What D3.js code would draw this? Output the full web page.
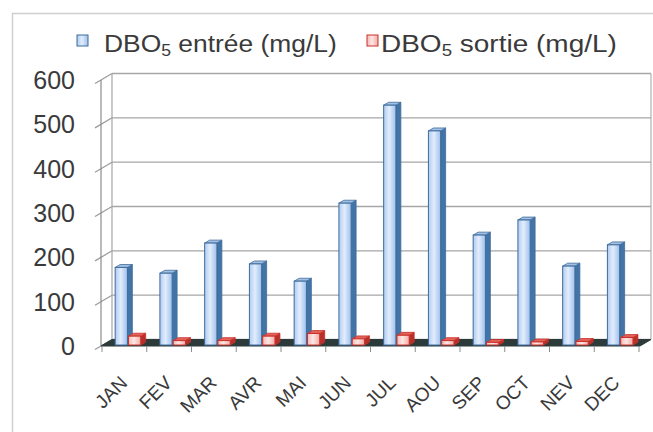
<!DOCTYPE html>
<html>
<head>
<meta charset="utf-8">
<script src="https://cdn.jsdelivr.net/npm/d3@7/dist/d3.min.js"></script>
<style>
  html, body { margin: 0; padding: 0; background: #fff; }
  svg { display: block; font-family: "Liberation Sans", Arial, sans-serif; }
</style>
</head>
<body>
<svg id="chart" width="653" height="432"></svg>
<script>
// Monthly BOD5 at the inlet and outlet of the plant (mg/L)
const months = ["JAN", "FEV", "MAR", "AVR", "MAI", "JUN", "JUL", "AOU", "SEP", "OCT", "NEV", "DEC"];
const dboEntree = [175, 162, 230, 183, 144, 320, 541, 483, 248, 282, 178, 226];
const dboSortie = [20, 10, 10, 20, 26, 14, 22, 10, 6, 7, 8, 17];
const yTicks = [0, 100, 200, 300, 400, 500, 600];
const seriesKeys = ["entree", "sortie"];
const seriesLabels = ["entrée (mg/L)", "sortie (mg/L)"];

const svg = d3.select("#chart");
const defs = svg.append("defs");

// pseudo-3D geometry: full depth of the plot box and the slab the columns occupy
const depth = { dx: 11, dy: -6.5 };
const barFront = 0.15, barBack = 0.6;

const x = d3.scaleBand().domain(months).range([102, 639]).padding(0);
const inner = d3.scaleBand().domain(seriesKeys).range([0, x.bandwidth()])
  .paddingInner(0.08).paddingOuter(0.72).align(0.6);
const y = d3.scaleLinear().domain([0, 600]).range([346, 80]);

const x0 = 101, x1 = 640;

// outer frame
svg.append("rect").attr("x", 12.5).attr("y", 13.5).attr("width", 700).attr("height", 500)
  .attr("fill", "#fff").attr("stroke", "#cfcfcf").attr("stroke-width", 1.5);

// gradients for the column faces
function hGrad(id, stops) {
  const g = defs.append("linearGradient").attr("id", id).attr("x1", 0).attr("x2", 1).attr("y1", 0).attr("y2", 0);
  stops.forEach(([o, c]) => g.append("stop").attr("offset", o).attr("stop-color", c));
}
hGrad("blueFront", [[0, "#b0cbf2"], [0.45, "#e2edfc"], [1, "#9fc0ec"]]);
hGrad("redFront", [[0, "#f5b9b5"], [0.45, "#fde6e4"], [1, "#f3aaa5"]]);

const palette = {
  entree: { front: "url(#blueFront)", side: "#4374a6", top: "#a3c0e3", stroke: "#3d6b9c" },
  sortie: { front: "url(#redFront)", side: "#b8302a", top: "#e3625a", stroke: "#c9312a" }
};

const wall = svg.append("g");
// gridlines on the back wall and side wall, with ticks on the front axis
wall.selectAll("line.grid").data(yTicks).join("line")
  .attr("x1", x0 + depth.dx).attr("x2", x1 + depth.dx)
  .attr("y1", d => y(d) + depth.dy).attr("y2", d => y(d) + depth.dy)
  .attr("stroke", "#a6a6a6").attr("stroke-width", 1.3);
wall.selectAll("line.side").data(yTicks).join("line")
  .attr("x1", x0 - 6).attr("y1", d => y(d) + 6 * 6.5 / 11)
  .attr("x2", x0 + depth.dx).attr("y2", d => y(d) + depth.dy)
  .attr("stroke", "#9a9a9a").attr("stroke-width", 1.2);
// wall edges
wall.append("line").attr("x1", x0 + depth.dx).attr("x2", x0 + depth.dx)
  .attr("y1", y(600) + depth.dy).attr("y2", y(0) + depth.dy).attr("stroke", "#a6a6a6").attr("stroke-width", 1.2);
wall.append("line").attr("x1", x1 + depth.dx).attr("x2", x1 + depth.dx)
  .attr("y1", y(600) + depth.dy).attr("y2", y(0) + depth.dy).attr("stroke", "#b0b0b0").attr("stroke-width", 1.2);
wall.append("line").attr("x1", x0).attr("x2", x0)
  .attr("y1", y(600)).attr("y2", y(0)).attr("stroke", "#8c8c8c").attr("stroke-width", 1.2);

// floor
svg.append("path")
  .attr("d", `M${x0},${y(0)}L${x1},${y(0)}L${x1 + depth.dx},${y(0) + depth.dy}L${x0 + depth.dx},${y(0) + depth.dy}Z`)
  .attr("fill", "#2c3a3a").attr("stroke", "#2c3a3a").attr("stroke-width", 1);

// category ticks below the floor
svg.selectAll("line.xtick").data(months.concat(["end"])).join("line")
  .attr("x1", (d, i) => 102 + i * x.step()).attr("x2", (d, i) => 102 + i * x.step())
  .attr("y1", y(0)).attr("y2", y(0) + 6)
  .attr("stroke", "#8c8c8c").attr("stroke-width", 1);

// columns
const rows = months.map((m, i) => ({ m, entree: dboEntree[i], sortie: dboSortie[i] }));
const fx = barFront * depth.dx, fy = barFront * depth.dy;
const bdx = (barBack - barFront) * depth.dx, bdy = (barBack - barFront) * depth.dy;

const cols = svg.append("g");
rows.forEach(r => {
  seriesKeys.forEach(k => {
    const c = palette[k];
    const left = x(r.m) + inner(k) + fx;
    const w = inner.bandwidth();
    const top = y(r[k]) + fy;
    const base = y(0) + fy;
    const g = cols.append("g");
    // side face
    g.append("path")
      .attr("d", `M${left + w},${top}L${left + w + bdx},${top + bdy}L${left + w + bdx},${base + bdy}L${left + w},${base}Z`)
      .attr("fill", c.side).attr("stroke", c.stroke).attr("stroke-width", 0.8);
    // top face
    g.append("path")
      .attr("d", `M${left},${top}L${left + bdx},${top + bdy}L${left + w + bdx},${top + bdy}L${left + w},${top}Z`)
      .attr("fill", c.top).attr("stroke", c.stroke).attr("stroke-width", 0.8);
    // front face
    g.append("rect").attr("x", left).attr("y", top).attr("width", w).attr("height", base - top)
      .attr("fill", c.front).attr("stroke", c.stroke).attr("stroke-width", 1);
  });
});

// value axis labels
svg.selectAll("text.ylab").data(yTicks).join("text")
  .attr("x", 75).attr("y", d => y(d)).attr("dy", "0.36em")
  .attr("text-anchor", "end").attr("font-size", 25).attr("fill", "#3a3a3a")
  .text(d => d);

// month labels, rotated
svg.selectAll("text.xlab").data(months).join("text")
  .attr("transform", d => `translate(${x(d) + x.bandwidth() / 2 + 4},${384}) rotate(-45)`)
  .attr("text-anchor", "end").attr("font-size", 19).attr("fill", "#3a3a3a")
  .text(d => d);

// legend
const legendItems = [
  { key: "entree", sx: 77, tx: 104, len: 233 },
  { key: "sortie", sx: 367, tx: 381, len: 236 }
];
const lg = svg.append("g");
legendItems.forEach((it, i) => {
  const c = palette[it.key];
  lg.append("rect").attr("x", it.sx).attr("y", 35).attr("width", 11).attr("height", 11)
    .attr("fill", c.front).attr("stroke", c.stroke).attr("stroke-width", 1);
  const t = lg.append("text").attr("font-size", 24).attr("fill", "#3a3a3a");
  t.append("tspan").text("DBO");
  t.append("tspan").attr("font-size", 16).attr("dy", 4).text("5");
  t.append("tspan").attr("dy", -4).text(" " + seriesLabels[i]);
  // stretch the label horizontally to its legend slot
  const natural = t.node().getComputedTextLength();
  t.attr("transform", `translate(${it.tx},52) scale(${it.len / natural},1)`);
});
</script>
</body>
</html>
